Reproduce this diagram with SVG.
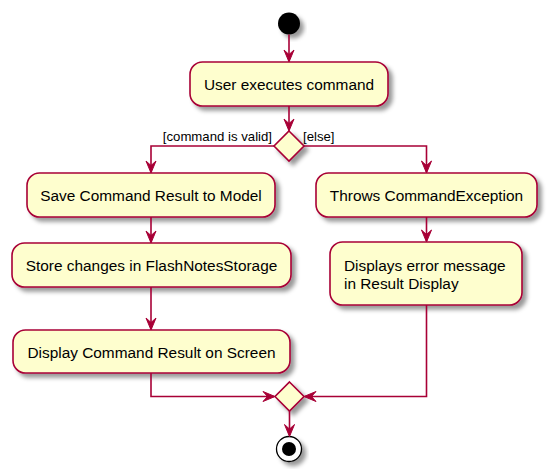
<svg xmlns="http://www.w3.org/2000/svg" width="548" height="476" viewBox="0 0 548 476">
<defs>
<filter id="sh" x="-20%" y="-20%" width="150%" height="150%">
<feGaussianBlur in="SourceAlpha" stdDeviation="2"/>
<feColorMatrix type="matrix" values="0 0 0 0 0  0 0 0 0 0  0 0 0 0 0  0 0 0 0.4 0"/>
<feOffset dx="4" dy="4" result="b"/>
<feMerge><feMergeNode in="b"/><feMergeNode in="SourceGraphic"/></feMerge>
</filter>
</defs>
<style>
.box{fill:#FEFECE;stroke:#A80036;stroke-width:1.6;filter:url(#sh)}
.t{font-family:"Liberation Sans",Arial,sans-serif;font-size:15.4px;fill:#000}
.c{text-anchor:middle}
.lb{font-family:"Liberation Sans",Arial,sans-serif;font-size:13.2px;fill:#000}
.ln{fill:none;stroke:#A80036;stroke-width:1.6}
.ah{fill:#A80036;stroke:#A80036;stroke-width:1}
</style>
<rect width="548" height="476" fill="#fff"/>
<g id="start"><circle cx="289" cy="23.5" r="11" fill="#000" filter="url(#sh)"/></g>
<g id="n1"><rect class="box" x="190" y="62" width="198" height="44" rx="12.5"/><text class="t c" x="289" y="90">User executes command</text></g>
<g id="d1"><polygon class="box" points="289,131 304,146 289,161 274,146"/>
<text class="lb" x="272" y="141" text-anchor="end">[command is valid]</text>
<text class="lb" x="303" y="141">[else]</text></g>
<g id="n2"><rect class="box" x="27" y="173" width="248" height="44" rx="12.5"/><text class="t c" x="151" y="201">Save Command Result to Model</text></g>
<g id="n3"><rect class="box" x="12" y="243" width="279" height="44" rx="12.5"/><text class="t c" x="151.5" y="271">Store changes in FlashNotesStorage</text></g>
<g id="n4"><rect class="box" x="13" y="330" width="277" height="43" rx="12.5"/><text class="t c" x="151.5" y="358">Display Command Result on Screen</text></g>
<g id="n5"><rect class="box" x="316" y="173" width="221" height="44" rx="12.5"/><text class="t c" x="426.5" y="201">Throws CommandException</text></g>
<g id="n6"><rect class="box" x="330" y="242" width="192" height="63" rx="12.5"/><text class="t" x="344" y="271">Displays error message</text><text class="t" x="344" y="289">in Result Display</text></g>
<g id="d2"><polygon class="box" points="289.5,382 304,396.5 289.5,411 275,396.5"/></g>
<g id="end"><circle cx="289" cy="449" r="12.5" fill="#fff" stroke="#000" stroke-width="1.3" filter="url(#sh)"/><circle cx="289" cy="449" r="7" fill="#000"/></g>
<g id="connectors">
<path class="ln" d="M289,34.5 V61"/>
<polygon class="ah" points="284,50 289,62 294,50 289,54.5"/>
<path class="ln" d="M289,106 V130"/>
<polygon class="ah" points="284,119 289,131 294,119 289,123.5"/>
<path class="ln" d="M274,146 H151 V172"/>
<polygon class="ah" points="146,161 151,173 156,161 151,165.5"/>
<path class="ln" d="M304,146 H426.5 V172"/>
<polygon class="ah" points="421.5,161 426.5,173 431.5,161 426.5,165.5"/>
<path class="ln" d="M151,217 V242"/>
<polygon class="ah" points="146,231 151,243 156,231 151,235.5"/>
<path class="ln" d="M151,287 V329"/>
<polygon class="ah" points="146,318 151,330 156,318 151,322.5"/>
<path class="ln" d="M426.5,217 V241"/>
<polygon class="ah" points="421.5,230 426.5,242 431.5,230 426.5,234.5"/>
<path class="ln" d="M151,373 V396.5 H274"/>
<polygon class="ah" points="263,391.5 275,396.5 263,401.5 267.5,396.5"/>
<path class="ln" d="M426.5,305 V396.5 H305"/>
<polygon class="ah" points="316,391.5 304,396.5 316,401.5 311.5,396.5"/>
<path class="ln" d="M289.5,411 V435"/>
<polygon class="ah" points="284.5,424.5 289.5,436.5 294.5,424.5 289.5,429"/>
</g>
</svg>
